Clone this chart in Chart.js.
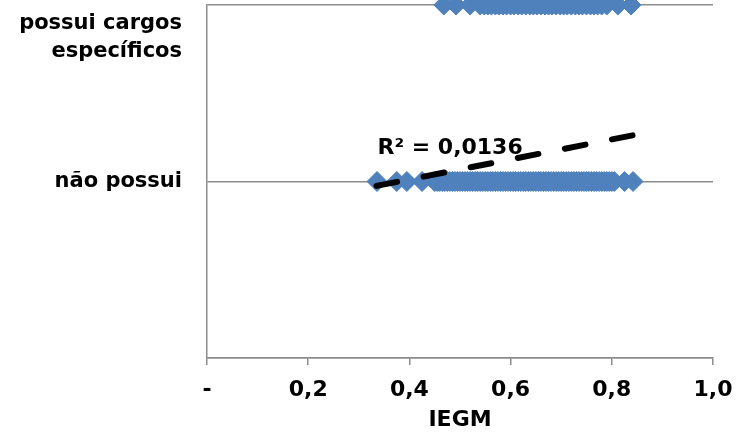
<!DOCTYPE html>
<html>
<head>
<meta charset="utf-8">
<title>IEGM</title>
<script src="https://cdn.jsdelivr.net/npm/chart.js@4.4.1/dist/chart.umd.min.js"></script>
<style>
  html, body { margin: 0; padding: 0; background: #fff; }
  #chart { display: block; }
</style>
</head>
<body>
<canvas id="chart" width="751" height="433"></canvas>
<script>
// categories on the y axis (value -> label lines)
const categoryValues = [0, 1];
const categoryLabels = [['não possui'], ['possui cargos', 'específicos']];

// IEGM of municipalities without specific posts (y = 0)
const naoPossuiX = [0.336, 0.375, 0.395, 0.425, 0.45,
  0.455, 0.46, 0.465, 0.47, 0.475, 0.48, 0.485, 0.49, 0.495, 0.50, 0.505, 0.51, 0.515, 0.52,
  0.525, 0.53, 0.535, 0.54, 0.545, 0.55, 0.555, 0.56, 0.565, 0.57, 0.575, 0.58, 0.585, 0.59,
  0.595, 0.60, 0.605, 0.61, 0.615, 0.62, 0.625, 0.63, 0.635, 0.64, 0.645, 0.65, 0.655, 0.66,
  0.665, 0.67, 0.675, 0.68, 0.685, 0.69, 0.695, 0.70, 0.705, 0.71, 0.715, 0.72, 0.725, 0.73,
  0.735, 0.74, 0.745, 0.75, 0.755, 0.76, 0.765, 0.77, 0.775, 0.78, 0.785, 0.79, 0.795, 0.80,
  0.805, 0.825, 0.842];

// IEGM of municipalities with specific posts (y = 1)
const possuiX = [0.468, 0.492, 0.52, 0.54, 0.548, 0.555, 0.562, 0.57, 0.577, 0.585, 0.592,
  0.60, 0.607, 0.615, 0.622, 0.63, 0.638, 0.645, 0.652, 0.66, 0.668, 0.675, 0.682, 0.69, 0.698,
  0.705, 0.712, 0.72, 0.728, 0.735, 0.742, 0.75, 0.758, 0.765, 0.772, 0.78, 0.79, 0.812, 0.838];

// linear trend endpoints and fit
const trendX = [0.335, 0.847];
const trendY = [-0.025, 0.265];
const rSquared = '0,0136';

const xTicks = [0, 0.2, 0.4, 0.6, 0.8, 1.0];

const blue = '#4f81bd';
const grey = '#8c8c8c';
const labelFont = 'bold 21px "DejaVu Sans"';

const toPoints = (xs, y) => xs.map(x => ({ x, y }));

// y category labels and the R² text, placed from the scales
const labelsPlugin = {
  id: 'labels',
  afterDraw(chart) {
    const { ctx, scales: { x, y } } = chart;
    ctx.save();
    ctx.fillStyle = '#000';
    ctx.font = labelFont;
    ctx.textAlign = 'right';
    ctx.textBaseline = 'middle';
    const lineH = 28;
    categoryValues.forEach((v, i) => {
      const lines = categoryLabels[i];
      let top = y.getPixelForValue(v) - lines.length * lineH / 2;
      if (top < 10) top = 10;
      lines.forEach((t, j) => ctx.fillText(t, x.left - 25, top + lineH * j + lineH / 2));
    });
    ctx.font = 'bold 22px "DejaVu Sans"';
    ctx.textAlign = 'left';
    ctx.fillText('R² = ' + rSquared, x.getPixelForValue(trendX[0]) + 1, y.getPixelForValue(0.19));
    ctx.restore();
  }
};

const markerStyle = {
  pointStyle: 'rectRot',
  pointRadius: 10,
  pointBackgroundColor: blue,
  pointBorderColor: blue,
  pointBorderWidth: 1,
  clip: false
};

new Chart(document.getElementById('chart'), {
  type: 'scatter',
  data: {
    datasets: [
      {
        label: 'Linear',
        type: 'line',
        data: trendX.map((x, i) => ({ x, y: trendY[i] })),
        borderColor: '#000',
        borderWidth: 6,
        borderDash: [21, 27],
        borderCapStyle: 'round',
        pointRadius: 0,
        fill: false,
        clip: false
      },
      { label: 'possui cargos específicos', data: toPoints(possuiX, 1), ...markerStyle },
      { label: 'não possui', data: toPoints(naoPossuiX, 0), ...markerStyle }
    ]
  },
  options: {
    responsive: false,
    devicePixelRatio: 1,
    animation: false,
    layout: { autoPadding: false, padding: { top: 5, right: 38, left: 0, bottom: 0 } },
    plugins: {
      legend: { display: false },
      tooltip: { enabled: false }
    },
    scales: {
      x: {
        type: 'linear',
        min: 0,
        max: 1,
        afterBuildTicks: axis => { axis.ticks = xTicks.map(value => ({ value })); },
        afterFit: axis => { axis.height = 75; },
        border: { color: grey, width: 1.5 },
        grid: { drawOnChartArea: false, drawTicks: true, tickLength: 7, color: grey, lineWidth: 1.5 },
        ticks: {
          color: '#000',
          font: { family: 'DejaVu Sans', weight: 'bold', size: 22 },
          padding: 12,
          maxRotation: 0,
          callback: v => v === 0 ? '-' : v.toFixed(1).replace('.', ',')
        },
        title: {
          display: true,
          text: 'IEGM',
          color: '#000',
          font: { family: 'DejaVu Sans', weight: 'bold', size: 22 },
          padding: { top: 0, bottom: 0 }
        }
      },
      y: {
        type: 'linear',
        min: -1,
        max: 1,
        afterBuildTicks: axis => { axis.ticks = [-1, 0, 1].map(value => ({ value })); },
        afterFit: axis => { axis.width = 207; },
        border: { color: grey, width: 1.5 },
        grid: { drawTicks: false, tickLength: 0, color: grey, lineWidth: 1.5 },
        ticks: { display: false }
      }
    }
  },
  plugins: [labelsPlugin]
});
</script>
</body>
</html>
